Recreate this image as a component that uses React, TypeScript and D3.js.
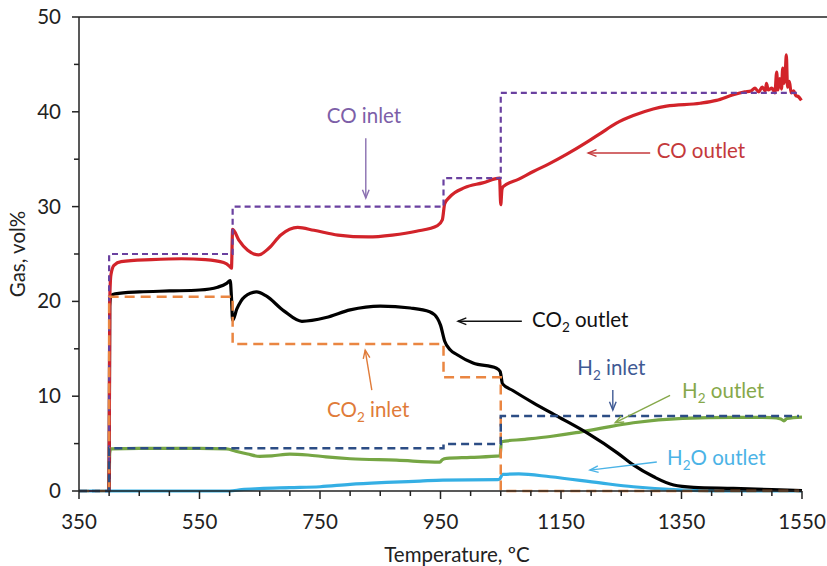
import * as d3 from "d3";

// temperature (°C) / gas content (vol%) pairs
const coOutlet: [number, number][] = [
  [400, 0], [401, 20], [403, 22.8], [408, 23.8], [420, 24.2], [470, 24.4], [520, 24.5],
  [560, 24.4], [590, 24.1], [600, 23.7], [603, 23.5], [605, 27.6], [615, 26.5], [630, 25.4],
  [648, 24.9], [665, 25.6], [685, 27.0], [713, 27.8], [740, 27.5], [780, 27.0], [830, 26.8],
  [870, 27.0], [910, 27.4], [945, 28.0], [953, 28.6], [957, 30.3], [965, 31.0], [990, 32.0],
  [1020, 32.5], [1048, 33.0], [1050, 30.2], [1052, 31.8], [1054, 32.1], [1080, 32.9],
  [1104, 33.7], [1130, 34.5], [1159, 35.5], [1193, 36.8], [1215, 37.7], [1242, 38.8],
  [1270, 39.6], [1303, 40.3], [1325, 40.6], [1381, 40.9], [1408, 41.2], [1436, 41.8],
  [1455, 42.1], [1465, 42.2], [1472, 42.5], [1478, 42.1], [1484, 42.6], [1489, 42.2],
  [1491, 43.0], [1494, 42.3], [1500, 42.5], [1505, 42.0], [1508, 44.2], [1510, 42.3],
  [1513, 43.5], [1516, 42.4], [1518, 44.6], [1520, 43.0], [1522, 43.8], [1524, 46.0],
  [1526, 42.6], [1529, 43.2], [1532, 42.0], [1536, 42.2], [1540, 41.7], [1544, 41.6], [1549, 41.2],
];

const co2Outlet: [number, number][] = [
  [400, 0], [401, 19.5], [403, 20.6], [410, 20.8], [450, 21.0], [500, 21.1], [550, 21.2],
  [580, 21.5], [595, 21.9], [601, 22.2], [603, 20.5], [605, 18.0], [612, 19.2], [625, 20.5],
  [645, 21.0], [660, 20.6], [690, 19.0], [720, 17.9], [760, 18.3], [800, 19.1], [850, 19.5],
  [900, 19.3], [932, 18.9], [945, 18.2], [950, 17.5], [957, 15.8], [966, 14.9], [977, 14.4],
  [1004, 13.5], [1043, 12.95], [1049, 12.6], [1053, 11.3], [1070, 10.6], [1104, 9.3],
  [1145, 7.85], [1194, 6.1], [1244, 4.0], [1270, 2.75], [1304, 1.5], [1337, 0.63],
  [1370, 0.39], [1436, 0.28], [1500, 0.15], [1550, 0.05],
];

const h2Outlet: [number, number][] = [
  [400, 0], [401, 4.0], [403, 4.45], [450, 4.5], [550, 4.5], [595, 4.45], [610, 4.2],
  [630, 3.9], [650, 3.65], [670, 3.7], [700, 3.9], [730, 3.8], [760, 3.6], [800, 3.4],
  [877, 3.25], [949, 3.05], [953, 3.3], [960, 3.45], [1000, 3.55], [1049, 3.7], [1051, 5.2],
  [1090, 5.45], [1132, 5.75], [1175, 6.15], [1215, 6.6], [1270, 7.2], [1352, 7.67],
  [1436, 7.77], [1500, 7.75], [1515, 7.6], [1520, 7.4], [1525, 7.65], [1550, 7.8],
];

const h2oOutlet: [number, number][] = [
  [350, 0], [600, 0], [620, 0.15], [650, 0.25], [700, 0.35], [750, 0.45], [800, 0.7],
  [860, 0.9], [916, 1.05], [954, 1.15], [1045, 1.2], [1048, 1.25], [1053, 1.75], [1080, 1.8],
  [1132, 1.5], [1215, 0.85], [1270, 0.45], [1352, 0.1], [1420, 0.02], [1550, 0],
];

// inlet set points (step after each temperature)
const coInlet: [number, number][] = [[350, 0], [400, 25], [605, 30], [955, 33], [1050, 42], [1545, 42]];
const co2Inlet: [number, number][] = [[350, 0], [400, 20.5], [605, 15.5], [955, 12], [1050, 0], [1545, 0]];
const h2Inlet: [number, number][] = [[350, 0], [400, 4.5], [955, 4.95], [1050, 7.9], [1545, 7.9]];

const xTicks = d3.range(350, 1551, 50);
const yTicks = d3.range(0, 51, 5);

const W = 827;
const H = 566;
const margin = { top: 17, right: 25, bottom: 75, left: 79 };
const FONT = "Lato, 'Open Sans', sans-serif";

const x = d3.scaleLinear().domain([350, 1550]).range([margin.left, W - margin.right]);
const y = d3.scaleLinear().domain([0, 50]).range([H - margin.bottom, margin.top]);

const smooth = d3
  .line<[number, number]>()
  .x((d) => x(d[0]))
  .y((d) => y(d[1]))
  .curve(d3.curveMonotoneX);

const step = d3
  .line<[number, number]>()
  .x((d) => x(d[0]))
  .y((d) => y(d[1]))
  .curve(d3.curveStepAfter);

function Arrow({ from, to, color }: { from: [number, number]; to: [number, number]; color: string }) {
  const x1 = x(from[0]), y1 = y(from[1]), x2 = x(to[0]), y2 = y(to[1]);
  const a = Math.atan2(y2 - y1, x2 - x1);
  const len = 9, spread = 0.38;
  const p1 = [x2 - len * Math.cos(a - spread), y2 - len * Math.sin(a - spread)];
  const p2 = [x2 - len * Math.cos(a + spread), y2 - len * Math.sin(a + spread)];
  return (
    <g stroke={color} strokeWidth={1.4} fill="none">
      <line x1={x1} y1={y1} x2={x2} y2={y2} />
      <polyline points={`${p1[0]},${p1[1]} ${x2},${y2} ${p2[0]},${p2[1]}`} />
    </g>
  );
}

function Label({ at, color, anchor = "start", parts }: {
  at: [number, number]; color: string; anchor?: string; parts: [string, string, string];
}) {
  // parts: before subscript, subscript, after subscript
  return (
    <text x={x(at[0])} y={y(at[1])} fill={color} fontSize={20.5} textAnchor={anchor} fontFamily={FONT}>
      {parts[0]}
      {parts[1] && <tspan fontSize={13.5} dy={5}>{parts[1]}</tspan>}
      {parts[1] ? <tspan dy={-5}>{parts[2]}</tspan> : parts[2]}
    </text>
  );
}

export default function App() {
  const x0 = margin.left;
  const yBase = H - margin.bottom;
  return (
    <svg width={W} height={H} style={{ position: "absolute", left: 0, top: 0, background: "#fff" }}>
      {/* outlets */}
      <path d={smooth(h2oOutlet) ?? ""} fill="none" stroke="#35afe4" strokeWidth={3.2} />
      <path d={smooth(h2Outlet) ?? ""} fill="none" stroke="#76a644" strokeWidth={3.2} />
      <path d={smooth(co2Outlet) ?? ""} fill="none" stroke="#000" strokeWidth={3.2} />
      <path d={smooth(coOutlet) ?? ""} fill="none" stroke="#d2232a" strokeWidth={3.2} />

      {/* inlets */}
      <path d={step(coInlet) ?? ""} fill="none" stroke="#6a41a0" strokeWidth={2.2} strokeDasharray="6,4" />
      <path d={step(co2Inlet) ?? ""} fill="none" stroke="#ea8642" strokeWidth={2.5} strokeDasharray="10,6" />
      <path d={step(h2Inlet) ?? ""} fill="none" stroke="#2c4d85" strokeWidth={2.5} strokeDasharray="8,5" />

      {/* axes */}
      <g stroke="#222" strokeWidth={1.5}>
        <line x1={x0} x2={W} y1={margin.top} y2={margin.top} />
        <line x1={x0} x2={x0} y1={margin.top} y2={yBase} />
        <line x1={x0} x2={x(1550)} y1={yBase} y2={yBase} />
        {xTicks.map((t) => (
          <line key={"xt" + t} x1={x(t)} x2={x(t)} y1={yBase} y2={yBase + ((t - 350) % 200 === 0 ? 8 : 5)} />
        ))}
        {yTicks.map((t) => (
          <line key={"yt" + t} x1={x0 - (t % 10 === 0 ? 7 : 5)} x2={x0} y1={y(t)} y2={y(t)} />
        ))}
      </g>
      <g fontFamily={FONT} fontSize={20.5} fill="#222">
        {xTicks.filter((t) => (t - 350) % 200 === 0).map((t) => (
          <text key={"xl" + t} x={x(t)} y={yBase + 38} textAnchor="middle">{t}</text>
        ))}
        {yTicks.filter((t) => t % 10 === 0).map((t) => (
          <text key={"yl" + t} x={x0 - 18} y={y(t) + 7} textAnchor="end">{t}</text>
        ))}
        <text x={457} y={562} textAnchor="middle">Temperature, ºC</text>
        <text transform="translate(25,254) rotate(-90)" textAnchor="middle">Gas, vol%</text>
      </g>

      {/* annotations */}
      <Label at={[823, 38.8]} color="#7d5fa8" anchor="middle" parts={["CO inlet", "", ""]} />
      <Arrow from={[826, 37.2]} to={[826, 30.9]} color="#8a6fb0" />

      <Label at={[1309, 35.1]} color="#c4393b" parts={["CO outlet", "", ""]} />
      <Arrow from={[1298, 35.65]} to={[1195, 35.65]} color="#c4393b" />

      <Label at={[1102, 17.3]} color="#111" parts={["CO", "2", " outlet"]} />
      <Arrow from={[1085, 17.9]} to={[979, 17.9]} color="#111" />

      <Label at={[830, 7.8]} color="#e07b39" anchor="middle" parts={["CO", "2", " inlet"]} />
      <Arrow from={[836, 10.65]} to={[825, 14.87]} color="#e07b39" />

      <Label at={[1177, 12.2]} color="#3f5a94" parts={["H", "2", " inlet"]} />
      <Arrow from={[1236, 10.65]} to={[1236, 8.54]} color="#3f5a94" />

      <Label at={[1351, 9.8]} color="#86a84a" parts={["H", "2", " outlet"]} />
      <Arrow from={[1331, 10.1]} to={[1240, 7.2]} color="#86a84a" />

      <Label at={[1326, 2.74]} color="#4bb3e6" parts={["H", "2", "O outlet"]} />
      <Arrow from={[1309, 3.06]} to={[1198, 2.2]} color="#4bb3e6" />
    </svg>
  );
}
